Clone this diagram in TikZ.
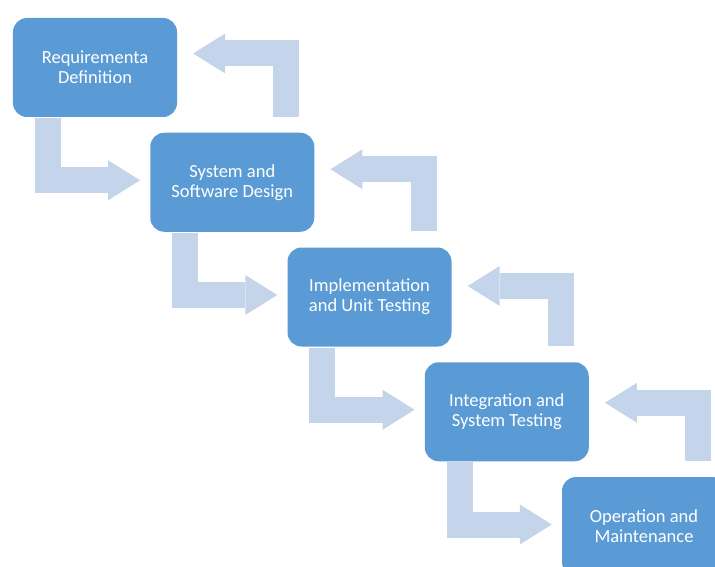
\documentclass[tikz,border=0pt]{standalone}
\usepackage{fontspec}
\setmainfont{Carlito}
\usetikzlibrary{arrows.meta}

\definecolor{boxblue}{RGB}{91,155,213}
\definecolor{arrowblue}{RGB}{196,212,234}

\begin{document}
\begin{tikzpicture}[x=1bp,y=-1bp,
    stage/.style={rectangle,rounded corners=14bp,fill=boxblue,text=white,
        minimum width=164bp,minimum height=99bp,align=center,
        font=\fontsize{18.5bp}{20bp}\selectfont},
    downarrow/.style={draw=arrowblue,line width=26bp,
        -{Triangle[length=32bp,width=40bp,line width=0pt,fill=arrowblue]}},
    uparrow/.style={downarrow}]
            \useasboundingbox (0,0) rectangle (715,567);
            \clip (0,0) rectangle (715,567);

            \node (req) at (95,67.5) [stage] {Requirementa\\Definition};
            \node (design) at (232.25,182.25) [stage] {System and\\Software Design};
            \node (impl) at (369.5,297) [stage] {Implementation\\and Unit Testing};
            \node (integ) at (506.75,411.75) [stage] {Integration and\\System Testing};
            \node (oper) at (644,526.5) [stage] {Operation and\\Maintenance};

            \draw[downarrow] ([xshift=35bp,yshift=-1bp]req.south west) |- ([xshift=-10bp,yshift=2bp]design.west);
            \draw[downarrow] ([xshift=35bp,yshift=-1bp]design.south west) |- ([xshift=-10bp,yshift=2bp]impl.west);
            \draw[downarrow] ([xshift=35bp,yshift=-1bp]impl.south west) |- ([xshift=-10bp,yshift=2bp]integ.west);
            \draw[downarrow] ([xshift=35bp,yshift=-1bp]integ.south west) |- ([xshift=-10bp,yshift=2bp]oper.west);

            \draw[uparrow] ([xshift=-28bp,yshift=16bp]design.north east) |- ([xshift=16bp,yshift=14bp]req.east);
            \draw[uparrow] ([xshift=-28bp,yshift=16bp]impl.north east) |- ([xshift=16bp,yshift=13bp]design.east);
            \draw[uparrow] ([xshift=-28bp,yshift=16bp]integ.north east) |- ([xshift=16bp,yshift=11bp]impl.east);
            \draw[uparrow] ([xshift=-28bp,yshift=16bp]oper.north east) |- ([xshift=16bp,yshift=9bp]integ.east);

        \end{tikzpicture}
\end{document}
